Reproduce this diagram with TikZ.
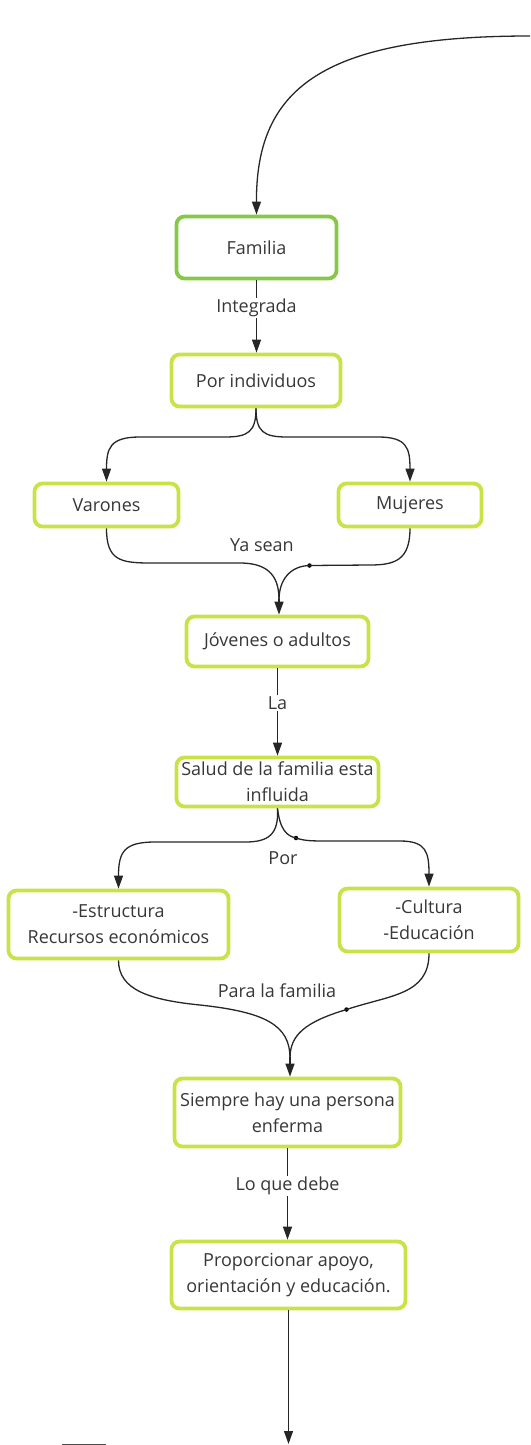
\documentclass[tikz,border=0pt]{standalone}
\usepackage{fontspec}
\setmainfont{Open Sans}
\usetikzlibrary{arrows.meta}
\definecolor{limeb}{RGB}{200,226,72}
\definecolor{greenb}{RGB}{136,200,72}
\definecolor{txt}{RGB}{55,55,55}
\begin{document}
\begin{tikzpicture}[x=1pt,y=-1pt,
  box/.style={draw=limeb,line width=3.8pt,rounded corners=8pt,align=center,text=txt,
    font=\fontsize{18}{26}\selectfont,inner sep=0pt},
  lbl/.style={text=txt,font=\fontsize{18}{26}\selectfont,inner sep=1pt},
  conn/.style={draw=black!85,line width=1.3pt},
  arr/.style={conn,-{Triangle[length=13pt,width=9pt]}},
  dotc/.style={circle,fill=black,inner sep=0pt,minimum size=4.5pt}]
\useasboundingbox (0,0) rectangle (530,1445);

% nodes
\node[box,draw=greenb,minimum width=160,minimum height=62] (fam) at (256.5,247.5) {Familia};
\node[box,minimum width=169,minimum height=52] (ind) at (256,380.5) {Por individuos};
\node[box,minimum width=144,minimum height=43] (var) at (106.5,505) {Varones};
\node[box,minimum width=143,minimum height=43] (muj) at (410,505) {Mujeres};
\node[box,minimum width=182,minimum height=50] (jov) at (277.5,641.5) {Jóvenes o adultos};
\node[box,minimum width=202,minimum height=49] (sal) at (277.5,782) {Salud de la familia esta\\influida};
\node[box,minimum width=220,minimum height=68] (est) at (118.5,924.5) {-Estructura\\Recursos económicos};
\node[box,minimum width=179,minimum height=63] (cul) at (429,920) {-Cultura\\-Educación};
\node[box,minimum width=226,minimum height=68] (sie) at (287.5,1112.5) {Siempre hay una persona\\enferma};
\node[box,minimum width=234,minimum height=67] (pro) at (288.5,1275) {Proporcionar apoyo,\\orientación y educación.};

% labels
\node[lbl] (lint) at (256.5,308) {Integrada};
\node[lbl] (lya) at (262,545) {Ya sean};
\node[lbl] (lla) at (277.5,703) {La};
\node[lbl] (lpor) at (283,858) {Por};
\node[lbl] (lpara) at (277,991) {Para la familia};
\node[lbl] (llo) at (287.5,1186) {Lo que debe};

% coordinates
\coordinate (start) at (530,36);
\coordinate (endb) at (288.5,1444);
\node[dotc] (d1) at (309.5,565.5) {};
\node[dotc] (d2) at (296,838) {};
\node[dotc] (d3) at (346.5,1009.5) {};

% connectors
\draw[arr] (start) .. controls (320,36) and (256,90) .. (fam.north);
\draw[conn] (fam.south) -- (lint.north);
\draw[arr] (lint.south) -- (ind.north -| lint.south);

\draw[arr] (ind.south) .. controls (256,432) and (248,437) .. (225,437)
  -- (140,437) .. controls (110,437) and (106.5,448) .. (var.north);
\draw[arr] (ind.south) .. controls (256,432) and (264,437) .. (287,437)
  -- (378,437) .. controls (407,437) and (410,448) .. (muj.north);

\draw[conn] (var.south) .. controls (106.5,560) and (120,563) .. (150,563)
  -- (240,563) .. controls (272,563) and (279,580) .. (279,600);
\draw[conn] (muj.south) .. controls (410,560) and (395,565) .. (370,565)
  -- (d1.center) .. controls (290,566) and (279,580) .. (279,600);
\draw[arr] (279,599) -- (jov.north -| 279,0);

\draw[conn] (jov.south) -- (lla.north);
\draw[arr] (lla.south) -- (sal.north);

\draw[arr] (sal.south) .. controls (279,835) and (268,842) .. (245,842)
  -- (155,842) .. controls (124,842) and (118.5,852) .. (est.north);
\draw[conn] (sal.south) .. controls (280,830) and (287,836) .. (d2.center);
\draw[arr] (d2.center) .. controls (305,841) and (312,841) .. (330,841)
  -- (400,841) .. controls (426,841) and (429,852) .. (cul.north);

\draw[conn] (est.south) .. controls (118.5,990) and (150,1000) .. (200,1005)
  .. controls (265,1012) and (290,1025) .. (290,1058);
\draw[conn] (cul.south) .. controls (429,995) and (390,995) .. (d3.center)
  .. controls (305,1022) and (290,1035) .. (290,1058);
\draw[arr] (290,1057) -- (sie.north -| 290,0);

\draw[conn] (sie.south) -- (llo.north);
\draw[arr] (llo.south) -- (pro.north -| llo.south);
\draw[arr] (pro.south) -- (endb);

% partial element at bottom left
\draw[draw=black!70,line width=2pt] (62,1444.5) -- (106,1444.5);
\end{tikzpicture}
\end{document}
